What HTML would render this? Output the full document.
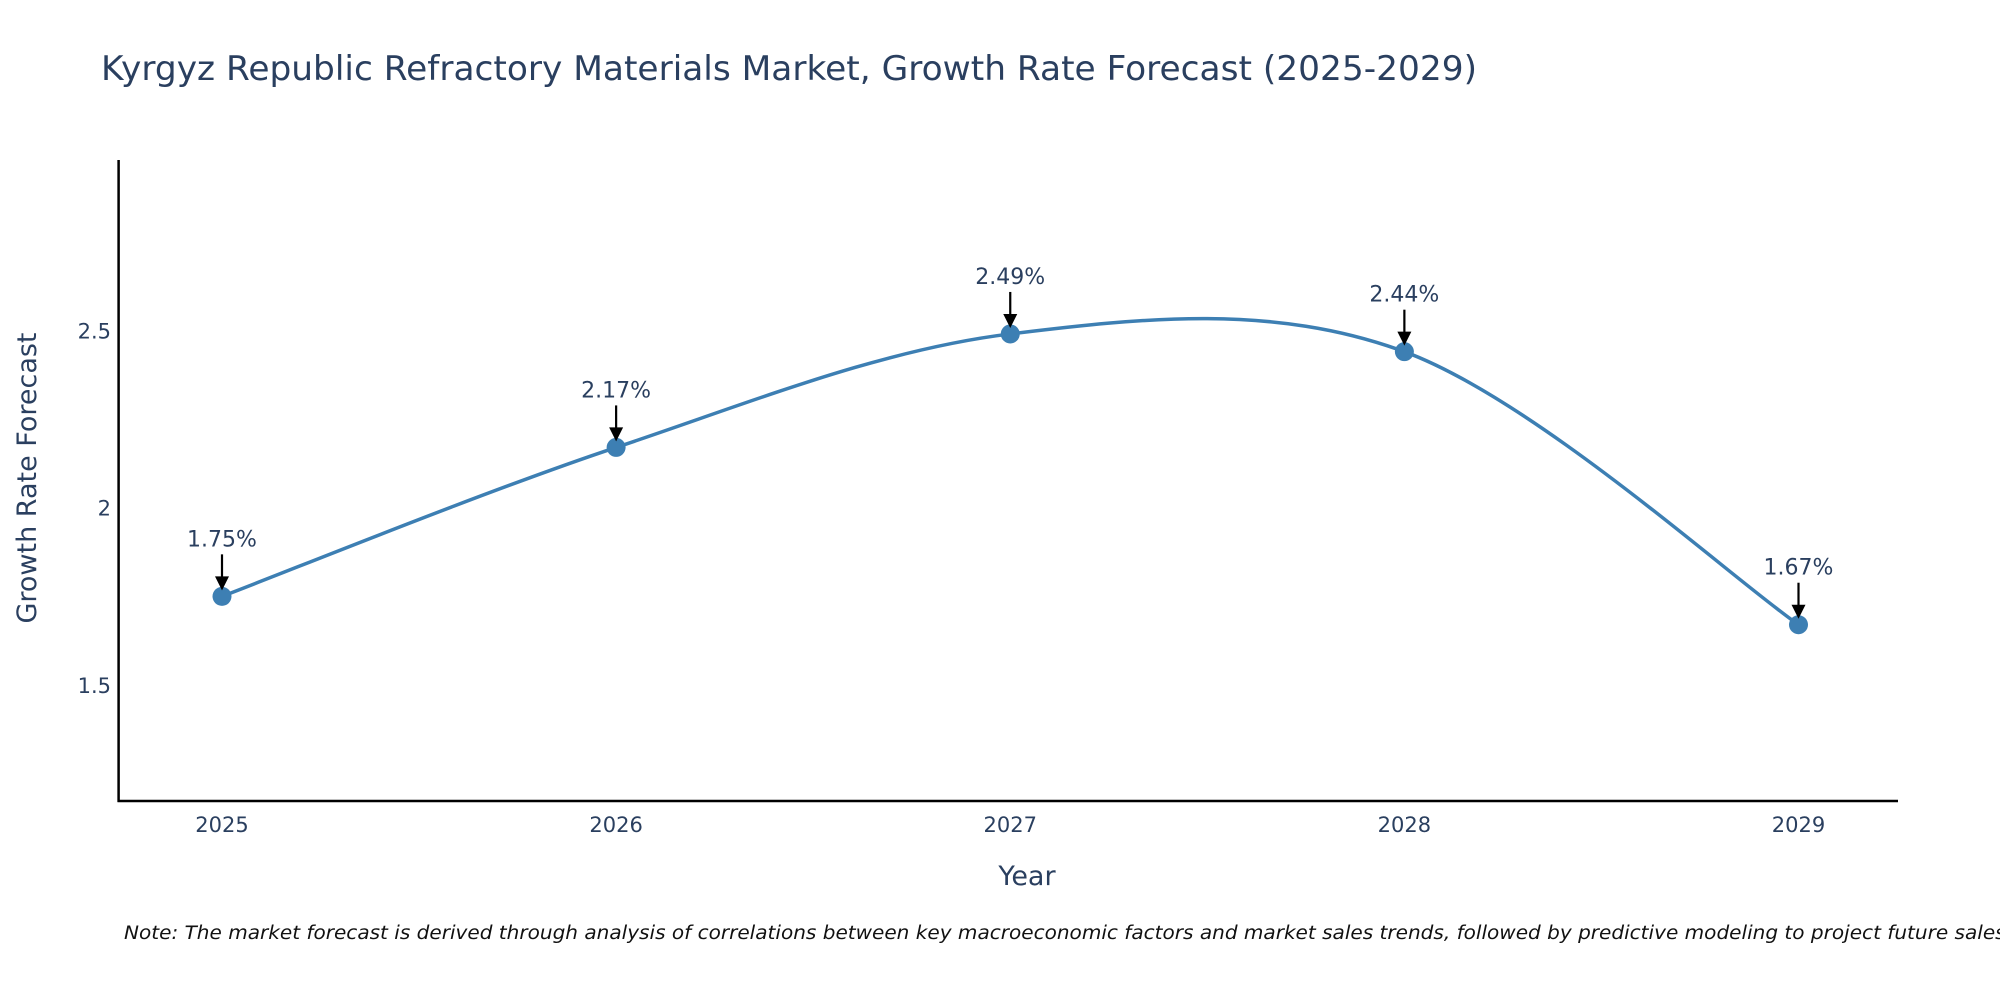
<!DOCTYPE html>
<html><head><meta charset="utf-8"><style>
html,body{margin:0;padding:0;background:#fff;}
svg{display:block;font-family:"DejaVu Sans","Liberation Sans",sans-serif;}
</style></head><body>
<svg id="chart" width="2000" height="1000" viewBox="0 0 2000 1000" xmlns="http://www.w3.org/2000/svg">
<text x="101" y="80" font-size="34" fill="#2a3f5f" textLength="1376" lengthAdjust="spacingAndGlyphs">Kyrgyz Republic Refractory Materials Market, Growth Rate Forecast (2025-2029)</text>
<line x1="118.6" y1="160" x2="118.6" y2="802" stroke="#000" stroke-width="2.5"/>
<line x1="117.5" y1="801" x2="1898" y2="801" stroke="#000" stroke-width="2.5"/>
<g id="yticks"></g>
<g id="xticks"></g>
<text transform="translate(36,478) rotate(-90)" text-anchor="middle" font-size="27" fill="#2a3f5f">Growth Rate Forecast</text>
<text x="1027" y="885" text-anchor="middle" font-size="27" fill="#2a3f5f">Year</text>
<g id="series"></g>
<g id="annots"></g>
<text x="124" y="939" font-size="18.5" font-style="italic" fill="#111" textLength="1888" lengthAdjust="spacingAndGlyphs">Note: The market forecast is derived through analysis of correlations between key macroeconomic factors and market sales trends, followed by predictive modeling to project future sales.</text>
</svg>
<script>
const years = [2025, 2026, 2027, 2028, 2029];
const values = [1.75, 2.17, 2.49, 2.44, 1.67];
const labels = ["1.75%", "2.17%", "2.49%", "2.44%", "1.67%"];
const yTicks = [1.5, 2, 2.5];
const yTickLabels = ["1.5", "2", "2.5"];

const NS = "http://www.w3.org/2000/svg";
function X(v){ return 222 + (v - 2025) * (1798.5 - 222) / 4; }
function Y(v){ return 507.7 - (v - 2) * (507.7 - 330.4) / 0.5; }
function mk(tag, attrs, parent){
  const e = document.createElementNS(NS, tag);
  for (const k in attrs) e.setAttribute(k, attrs[k]);
  parent.appendChild(e); return e;
}
const yg = document.getElementById('yticks');
yTicks.forEach((t,i)=>{
  const e = mk('text',{x:111,y:Y(t)+8,'text-anchor':'end','font-size':21,fill:'#2a3f5f'},yg);
  
  
  e.textContent = yTickLabels[i];
});
const xg = document.getElementById('xticks');
years.forEach(y=>{
  const e = mk('text',{x:X(y),y:832,'text-anchor':'middle','font-size':21,fill:'#2a3f5f'},xg);
  
  
  e.textContent = String(y);
});
const pts = years.map((y,i)=>[X(y),Y(values[i])]);
let d = `M${pts[0][0]},${pts[0][1]}`;
for (let i=0;i<pts.length-1;i++){
  const p0 = pts[Math.max(i-1,0)], p1 = pts[i], p2 = pts[i+1], p3 = pts[Math.min(i+2,pts.length-1)];
  const c1 = [p1[0]+(p2[0]-p0[0])/6, p1[1]+(p2[1]-p0[1])/6];
  const c2 = [p2[0]-(p3[0]-p1[0])/6, p2[1]-(p3[1]-p1[1])/6];
  d += ` C${c1[0]},${c1[1]} ${c2[0]},${c2[1]} ${p2[0]},${p2[1]}`;
}
const sg = document.getElementById('series');
const line = mk('path',{d:d,fill:'none',stroke:'#3d7fb3','stroke-width':3.5},sg);


const ag = document.getElementById('annots');
pts.forEach((p,i)=>{
  const c = mk('circle',{cx:p[0],cy:p[1],r:9.5,fill:'#3d7fb3'},sg);
  
  
  const a = mk('line',{x1:p[0],y1:p[1]-42,x2:p[0],y2:p[1]-18,stroke:'#000','stroke-width':2.2},ag);
  
  
  const h = mk('polygon',{points:`${p[0]-7},${p[1]-20} ${p[0]+7},${p[1]-20} ${p[0]},${p[1]-6}`,fill:'#000'},ag);
  
  
  const t = mk('text',{x:p[0],y:p[1]-50,'text-anchor':'middle','font-size':22,fill:'#2a3f5f'},ag);
  
  
  t.textContent = labels[i];
});
</script>
</body></html>
